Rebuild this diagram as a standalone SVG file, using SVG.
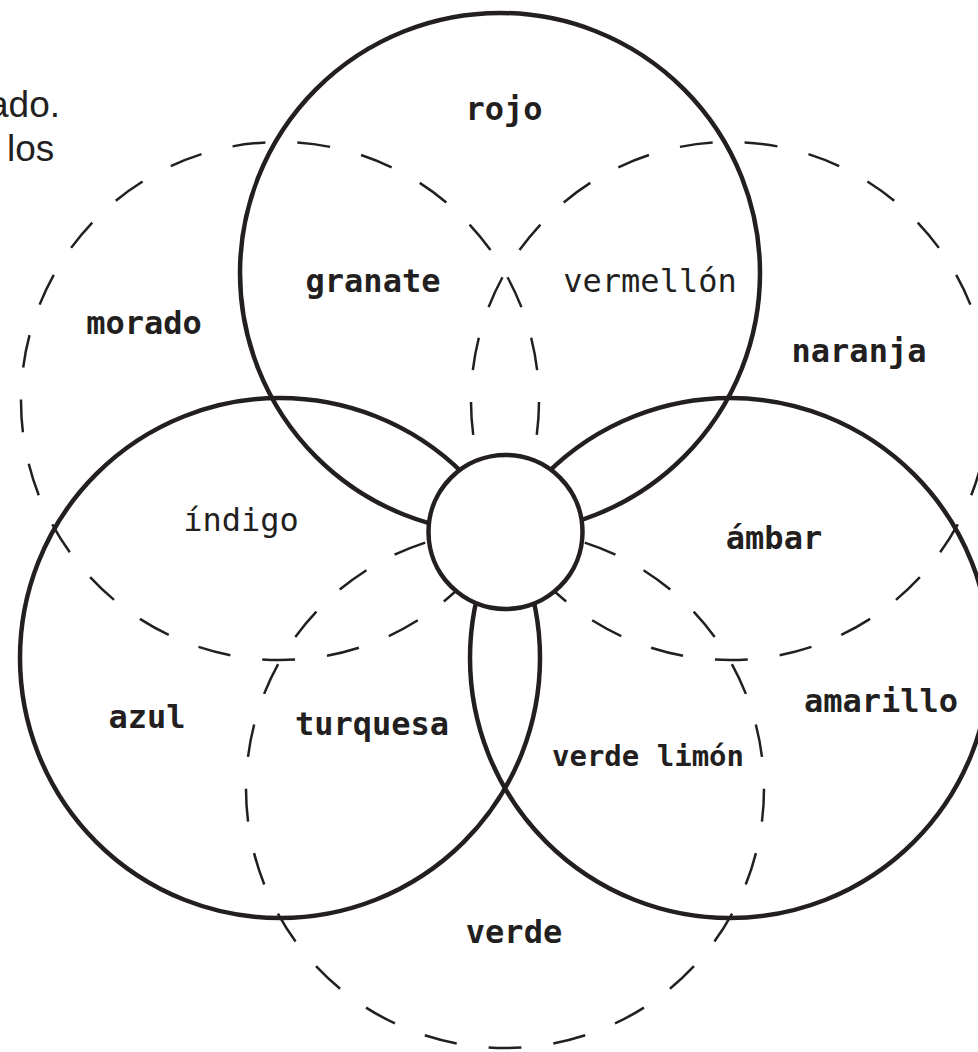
<svg xmlns="http://www.w3.org/2000/svg" width="978" height="1052" viewBox="0 0 978 1052">
<style>
.solid{fill:none;stroke:#231f20;stroke-width:4.5}
.dash{fill:none;stroke:#231f20;stroke-width:2.5;stroke-dasharray:7.3 7.1}
.hub{fill:#fff;stroke:#231f20;stroke-width:4.5}
.lb{font-family:"DejaVu Sans Mono",monospace;font-size:32px;font-weight:bold;fill:#231f20;text-anchor:middle}
.ln{font-weight:normal}
.cap{font-family:"Liberation Sans",Arial,sans-serif;font-size:37px;fill:#231f20}
</style>
<rect width="978" height="1052" fill="#fff"/>
<text class="cap" x="60" y="117" text-anchor="end">ado.</text>
<text class="cap" x="7" y="161">los</text>
<g id="connectors"/>
<g id="morado"><circle class="dash" cx="280" cy="401" r="259" pathLength="360" stroke-dashoffset="14.15"/></g>
<g id="naranja"><circle class="dash" cx="730" cy="401" r="259" pathLength="360" stroke-dashoffset="0.35"/></g>
<g id="verde"><circle class="dash" cx="505" cy="789" r="259" pathLength="360" stroke-dashoffset="0.05"/></g>
<g id="rojo"><circle class="solid" cx="500" cy="273" r="260"/></g>
<g id="azul"><circle class="solid" cx="280" cy="658" r="260"/></g>
<g id="amarillo"><circle class="solid" cx="730" cy="658" r="260"/></g>
<g id="centro"><circle class="hub" cx="505.5" cy="532" r="77"/></g>
<g id="labels">
<text class="lb" x="504" y="120">rojo</text>
<text class="lb" x="373" y="292">granate</text>
<text class="lb ln" x="650" y="292">vermellón</text>
<text class="lb" x="144" y="334">morado</text>
<text class="lb" x="859" y="362">naranja</text>
<text class="lb ln" x="241" y="531">índigo</text>
<text class="lb" x="774" y="549">ámbar</text>
<text class="lb" x="147" y="728">azul</text>
<text class="lb" x="372" y="735">turquesa</text>
<text class="lb" x="881" y="712">amarillo</text>
<text class="lb" x="648" y="766" style="font-size:29px">verde limón</text>
<text class="lb" x="514" y="943">verde</text>
</g>
</svg>
